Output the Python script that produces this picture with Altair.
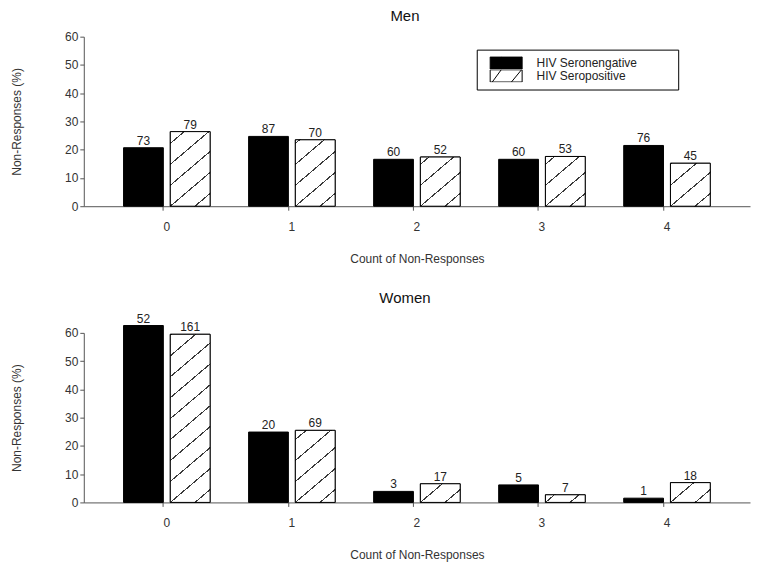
import math
import altair as alt
import pandas as pd

# ---------------- data ----------------
counts = ["0", "1", "2", "3", "4"]
groups = ["HIV Seronengative", "HIV Seropositive"]

men_neg_pct = [20.7, 24.7, 16.6, 16.6, 21.5]
men_pos_pct = [26.4, 23.5, 17.4, 17.6, 15.2]
men_neg_n = [73, 87, 60, 60, 76]
men_pos_n = [79, 70, 52, 53, 45]

women_neg_pct = [62.6, 24.9, 3.9, 6.2, 1.5]
women_pos_pct = [59.5, 25.5, 6.6, 2.7, 7.0]
women_neg_n = [52, 20, 3, 5, 1]
women_pos_n = [161, 69, 17, 7, 18]

y_ticks = [0, 10, 20, 30, 40, 50, 60]

# ---------------- layout / style ----------------
FONT = "Liberation Sans"
PLOT_W = 668
PLOT_H = 170
Y_MAX = 60
PAD_INNER = 0.308
PAD_OUTER = 0.318
OFF_PAD = 0.149

step = PLOT_W / (len(counts) - PAD_INNER + 2 * PAD_OUTER)
band = step * (1 - PAD_INNER)
bar_w = band / (2 - OFF_PAD) * (1 - OFF_PAD)

HATCH_SLOPE = 0.85
HATCH_V = 21.0
HATCH_LW = 1.1
HATCH_COLOR = "#3a3a3a"


def hatch_gradient(pct):
    """Linear gradient with hard stops that imitates diagonal hatching."""
    w = bar_w
    h = max(pct * PLOT_H / Y_MAX, 0.5)
    m = HATCH_SLOPE
    beta = (m / h + 1 / w) / (m * m / (h * h) + 1 / (w * w))
    x2 = beta * m / h
    y2 = beta / w
    span = m * w + h
    half = HATCH_LW * math.sqrt(1 + m * m) / span / 2
    kmin = math.ceil(-m * w / HATCH_V)
    kmax = math.floor(h / HATCH_V)
    centers = sorted((h - k * HATCH_V) / span for k in range(kmin, kmax + 1))
    stops = [{"offset": 0.0, "color": "white"}]
    for c in centers:
        a = min(max(c - half, 0.0), 1.0)
        b = min(max(c + half, 0.0), 1.0)
        stops += [
            {"offset": a, "color": "white"},
            {"offset": a, "color": HATCH_COLOR},
            {"offset": b, "color": HATCH_COLOR},
            {"offset": b, "color": "white"},
        ]
    stops.append({"offset": 1.0, "color": "white"})
    return {"gradient": "linear", "x1": 0, "y1": 0, "x2": x2, "y2": y2, "stops": stops}


# wide rectangle (with two hatch strokes) in a 12px symbol box
LEGEND_SYMBOL = (
    "M-2.67,-1.02H2.67V1.02H-2.67Z"
    "M-2.32,1.02L-0.83,-1.02"
    "M0.88,1.02L2.56,-1.02"
)
# blank room on the right of the legend labels (zero-width char keeps it from being trimmed)
LABEL_PAD = "\u00a0" * 10 + "\u200b"


def make_panel(title, neg_pct, pos_pct, neg_n, pos_n, title_offset):
    rows = []
    for c, p, n in zip(counts, neg_pct, neg_n):
        rows.append({"count": c, "group": groups[0], "pct": p, "n": n})
    for c, p, n in zip(counts, pos_pct, pos_n):
        rows.append({"count": c, "group": groups[1], "pct": p, "n": n})
    df = pd.DataFrame(rows)

    base = alt.Chart(df).encode(
        x=alt.X(
            "count:N",
            sort=counts,
            scale=alt.Scale(paddingInner=PAD_INNER, paddingOuter=PAD_OUTER),
            axis=alt.Axis(
                title="Count of Non-Responses",
                labelAngle=0,
                tickSize=4,
                labelPadding=11,
                titlePadding=21,
                bandPosition=0.46,
                domainColor="#555555",
                tickColor="#555555",
                labelColor="#333333",
                titleColor="#333333",
                labelFontSize=12,
                titleFontSize=12,
                titleFontWeight="normal",
            ),
        ),
        xOffset=alt.XOffset(
            "group:N", sort=groups,
            scale=alt.Scale(domain=groups, paddingInner=OFF_PAD, paddingOuter=0),
        ),
        y=alt.Y(
            "pct:Q",
            scale=alt.Scale(domain=[0, Y_MAX], nice=False),
            axis=alt.Axis(
                values=y_ticks,
                title="Non-Responses (%)",
                tickSize=4,
                labelPadding=2,
                titlePadding=41,
                grid=False,
                domainColor="#555555",
                tickColor="#555555",
                labelColor="#333333",
                titleColor="#333333",
                labelFontSize=12,
                titleFontSize=12,
                titleFontWeight="normal",
            ),
        ),
    )

    bars = base.mark_bar(stroke="black", strokeWidth=1).encode(
        fill=alt.Fill(
            "group:N",
            scale=alt.Scale(domain=groups, range=["black", "white"]),
            legend=alt.Legend(
                title=None,
                orient="none",
                legendX=394,
                legendY=13,
                strokeColor="black",
                padding=7,
                symbolOffset=16,
                symbolType=LEGEND_SYMBOL,
                symbolSize=144,
                symbolStrokeColor="black",
                symbolStrokeWidth=1,
                labelFont=FONT,
                labelFontSize=12,
                labelColor="#222222",
                labelOffset=24,
                rowPadding=0,
                clipHeight=12.7,
                labelExpr=f"datum.label + '{LABEL_PAD}'",
            ),
        )
    )

    conds = [
        {"test": f"datum.count == '{c}'", "value": hatch_gradient(p)}
        for c, p in zip(counts, pos_pct)
    ]
    hatch = (
        base.transform_filter(alt.datum.group == groups[1])
        .mark_bar(stroke="black", strokeWidth=1)
        .encode(fill=alt.FillValue("white", condition=conds))
    )

    labels = base.mark_text(
        baseline="alphabetic", dy=-3, fontSize=12, color="#222222", font=FONT
    ).encode(text="n:Q")

    return alt.layer(bars, hatch, labels).properties(
        width=PLOT_W,
        height=PLOT_H,
        title=alt.TitleParams(
            title, fontSize=15, fontWeight="normal", font=FONT, color="#111111",
            dx=-12, offset=title_offset,
        ),
    )


men = make_panel("Men", men_neg_pct, men_pos_pct, men_neg_n, men_pos_n, 7)
women = make_panel("Women", women_neg_pct, women_pos_pct, women_neg_n, women_pos_n, 7)

chart = (
    alt.vconcat(men, women, spacing=26)
    .properties(padding={"left": 2, "top": 0, "right": 2, "bottom": 2})
    .configure(font=FONT)
    .configure_view(strokeWidth=0, stroke="transparent")
    .configure_axis(labelFont=FONT, titleFont=FONT)
)

chart.save("out.html", embed_options={"renderer": "svg", "actions": False})
